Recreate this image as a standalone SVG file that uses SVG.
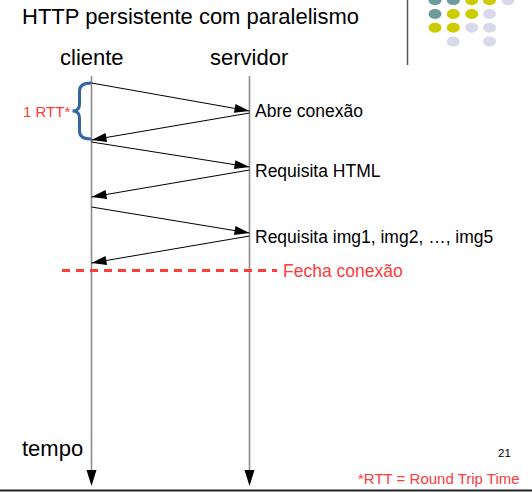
<svg xmlns="http://www.w3.org/2000/svg" width="532" height="492" viewBox="0 0 532 492">
<style>
text{font-family:"Liberation Sans",Arial,sans-serif;}
.big{font-size:22px;fill:#000;}
.lbl{font-size:17.5px;fill:#000;}
.red{fill:#ff3b3b;}
.tl{stroke:#8c8c8c;stroke-width:1.6;fill:none;}
.msg{stroke:#000;stroke-width:1;fill:none;marker-end:url(#ah);}
.teal{fill:#6b9b9b;}
.yel{fill:#cccc00;}
.lav{fill:#d9d9ec;}
</style>
<defs>
<marker id="ah" markerUnits="userSpaceOnUse" markerWidth="16" markerHeight="10" refX="15" refY="5" orient="auto" overflow="visible">
<path d="M0,0.5 L15,5 L0,9.5 z" fill="#000"/>
</marker>
</defs>
<rect width="532" height="492" fill="#fff"/>
<g id="decor">
<line x1="407.5" y1="0" x2="407.5" y2="65" stroke="#555" stroke-width="1.5"/>
<ellipse class="teal" cx="435" cy="0.3" rx="6.5" ry="5"/>
<ellipse class="teal" cx="453.3" cy="0.3" rx="6.5" ry="5"/>
<ellipse class="yel" cx="471.7" cy="0.3" rx="6.5" ry="5"/>
<ellipse class="yel" cx="489.5" cy="0.3" rx="6.5" ry="5"/>
<ellipse class="lav" cx="508" cy="0.3" rx="6.5" ry="5"/>
<ellipse class="teal" cx="435" cy="14" rx="6.5" ry="5"/>
<ellipse class="yel" cx="453.3" cy="14" rx="6.5" ry="5"/>
<ellipse class="yel" cx="471.7" cy="14" rx="6.5" ry="5"/>
<ellipse class="lav" cx="489.5" cy="14" rx="6.5" ry="5"/>
<ellipse class="yel" cx="435" cy="27.7" rx="6.5" ry="5"/>
<ellipse class="yel" cx="453.3" cy="27.7" rx="6.5" ry="5"/>
<ellipse class="lav" cx="471.7" cy="27.7" rx="6.5" ry="5"/>
<ellipse class="lav" cx="489.5" cy="27.7" rx="6.5" ry="5"/>
<ellipse class="lav" cx="453.3" cy="41.6" rx="6.5" ry="5"/>
<ellipse class="lav" cx="489.5" cy="41.6" rx="6.5" ry="5"/>
<line x1="0" y1="490.5" x2="532" y2="490.5" stroke="#222" stroke-width="2"/>
</g>
<text class="big" x="22" y="24">HTTP persistente com paralelismo</text>
<g id="cliente">
<text class="big" x="60" y="65" font-size="23">cliente</text>
</g>
<g id="servidor">
<text class="big" x="210" y="65" font-size="23">servidor</text>
</g>
<g id="connectors">
<line class="tl" x1="91.5" y1="76" x2="91.5" y2="472"/>
<polygon points="86.5,470 96.5,470 91.5,486" fill="#000"/>
<line class="tl" x1="249.5" y1="76" x2="249.5" y2="472"/>
<polygon points="244.5,470 254.5,470 249.5,486" fill="#000"/>
<line class="msg" x1="91.5" y1="83" x2="249.5" y2="111"/>
<line class="msg" x1="249.5" y1="113" x2="91.5" y2="140"/>
<line class="msg" x1="91.5" y1="142" x2="249.5" y2="167"/>
<line class="msg" x1="249.5" y1="170" x2="91.5" y2="197"/>
<line class="msg" x1="91.5" y1="207" x2="249.5" y2="233"/>
<line class="msg" x1="249.5" y1="236" x2="91.5" y2="263"/>
<line x1="62" y1="270.5" x2="277" y2="270.5" stroke="#ff3b3b" stroke-width="3" stroke-dasharray="8 6"/>
<path d="M91,83 Q79.5,83 79.5,91 L79.5,104 Q79.5,111 72.5,111 Q79.5,111 79.5,118 L79.5,131 Q79.5,139 91,139" fill="none" stroke="#3465a4" stroke-width="3"/>
</g>
<g id="labels">
<text class="lbl" x="255" y="117">Abre conexão</text>
<text class="lbl" x="255" y="177">Requisita HTML</text>
<text class="lbl" x="255" y="243">Requisita img1, img2, …, img5</text>
<text class="lbl red" x="283" y="277">Fecha conexão</text>
<text class="red" x="23" y="117" font-size="15">1 RTT*</text>
<text class="big" x="22" y="456">tempo</text>
<text x="498" y="457" font-size="11.5" fill="#000">21</text>
<text class="red" x="358" y="483.5" font-size="15">*RTT = Round Trip Time</text>
</g>
</svg>
